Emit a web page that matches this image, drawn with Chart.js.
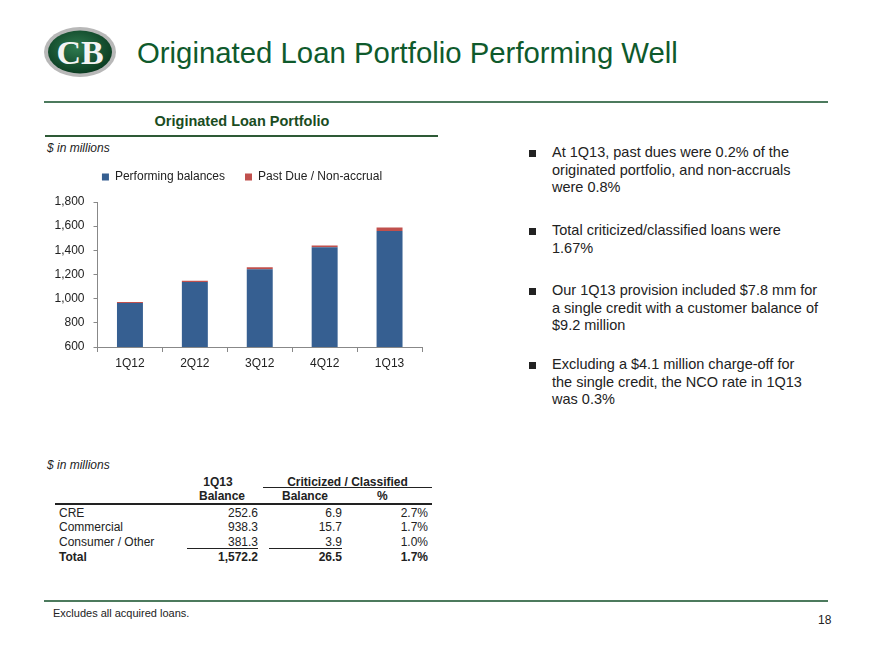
<!DOCTYPE html>
<html>
<head>
<meta charset="utf-8">
<script src="https://cdn.jsdelivr.net/npm/chart.js@4.4.0/dist/chart.umd.min.js"></script>
<style>
  body { margin:0; background:#fff; font-family:"Liberation Sans", Arial, sans-serif; color:#222; }
  #page { position:relative; width:880px; height:660px; overflow:hidden; }
  .abs { position:absolute; white-space:nowrap; }
  .hline { position:absolute; }
  #title { left:137px; top:36px; font-size:30px; color:#0f5a2c; transform:scaleX(0.978); transform-origin:left top; }
  #chartBox { position:absolute; left:30px; top:151px; width:420px; height:229px; }
  .bul { position:absolute; left:529px; width:7px; height:7px; background:#222; }
  .btxt { position:absolute; left:552px; font-size:14.5px; line-height:17.5px; color:#222; }
  .t { position:absolute; font-size:12px; line-height:14px; white-space:nowrap; }
  .r { text-align:right; }
  .b { font-weight:bold; }
</style>
</head>
<body>
<div id="page">
  <svg class="abs" style="left:42px;top:25px" width="78" height="56">
    <defs>
      <radialGradient id="g1" cx="45%" cy="40%" r="60%">
        <stop offset="0" stop-color="#2f7a4f"/>
        <stop offset="1" stop-color="#0b3d22"/>
      </radialGradient>
    </defs>
    <ellipse cx="38" cy="27" rx="36" ry="25" fill="#b8b8b8"/>
    <ellipse cx="38" cy="27" rx="32" ry="21.5" fill="url(#g1)"/>
    <text x="38" y="39" text-anchor="middle" font-family="Liberation Serif, serif" font-size="34" font-weight="bold" fill="#f4f4f4">CB</text>
  </svg>
  <div id="title" class="abs">Originated Loan Portfolio Performing Well</div>
  <div class="hline" style="left:44px;top:101px;width:784px;height:2px;background:#4c7a5d"></div>

  <div class="abs b" style="left:242px;top:113px;transform:translateX(-50%);font-size:14.5px;color:#1a4d1f">Originated Loan Portfolio</div>
  <div class="hline" style="left:45px;top:135px;width:393px;height:2px;background:#2e5a36"></div>
  <div class="abs" style="left:47px;top:141px;font-size:12px;font-style:italic">$ in millions</div>

  <div id="chartBox"><canvas id="c" width="420" height="229"></canvas></div>

  <div class="bul" style="top:150px"></div>
  <div class="btxt" style="top:144px">At 1Q13, past dues were 0.2% of the<br>originated portfolio, and non-accruals<br>were 0.8%</div>
  <div class="bul" style="top:228px"></div>
  <div class="btxt" style="top:222px">Total criticized/classified loans were<br>1.67%</div>
  <div class="bul" style="top:288px"></div>
  <div class="btxt" style="top:282px">Our 1Q13 provision included $7.8 mm for<br>a single credit with a customer balance of<br>$9.2 million</div>
  <div class="bul" style="top:362px"></div>
  <div class="btxt" style="top:356px">Excluding a $4.1 million charge-off for<br>the single credit, the NCO rate in 1Q13<br>was 0.3%</div>

  <div id="tbl"></div>

  <div class="hline" style="left:44px;top:600px;width:784px;height:2px;background:#4c7a5d"></div>
  <div class="abs" style="left:53px;top:607px;font-size:11px">Excludes all acquired loans.</div>
  <div class="abs" style="left:818px;top:613px;font-size:12px">18</div>
</div>

<script>
// chart data
const quarters = ['1Q12', '2Q12', '3Q12', '4Q12', '1Q13'];
const performing = [964, 1137, 1243, 1425, 1560];
const pastDue = [8, 11, 18, 16, 30];
const yTicks = [600, 800, 1000, 1200, 1400, 1600, 1800];

// table data
const segments = ['CRE', 'Commercial', 'Consumer / Other', 'Total'];
const balance1Q13 = ['252.6', '938.3', '381.3', '1,572.2'];
const critBalance = ['6.9', '15.7', '3.9', '26.5'];
const critPct = ['2.7%', '1.7%', '1.0%', '1.7%'];

const axisFont = { family: 'Liberation Sans', size: 12 };

// extra room under the legend, and nudge it right
const legendTweak = {
  id: 'legendTweak',
  beforeInit(chart) {
    const fit = chart.legend.fit;
    chart.legend.fit = function () {
      fit.bind(chart.legend)();
      this.height += 9;
    };
  },
  afterLayout(chart) {
    chart.legend.left += 7.5;
    chart.legend.right += 7.5;
  }
};

new Chart(document.getElementById('c'), {
  type: 'bar',
  data: {
    labels: quarters,
    datasets: [
      { label: 'Performing balances', data: performing, backgroundColor: '#365f91', barPercentage: 0.4, categoryPercentage: 1 },
      { label: 'Past Due / Non-accrual', data: pastDue, backgroundColor: '#c0504d', barPercentage: 0.4, categoryPercentage: 1 }
    ]
  },
  plugins: [legendTweak],
  options: {
    responsive: false,
    animation: false,
    layout: { padding: { left: 17, right: 28, top: 0, bottom: 0 } },
    plugins: {
      tooltip: { enabled: false },
      legend: {
        position: 'top',
        labels: { boxWidth: 7, boxHeight: 7, padding: 20, color: '#222', font: axisFont }
      }
    },
    scales: {
      x: {
        stacked: true,
        grid: { drawOnChartArea: false, tickLength: 5, color: '#888' },
        border: { color: '#888' },
        ticks: { color: '#222', font: axisFont, padding: 4 },
        afterFit: (s) => { s.height = 33; }
      },
      y: {
        stacked: true,
        min: 600, max: 1800,
        afterBuildTicks: (s) => { s.ticks = yTicks.map(v => ({ value: v })); },
        grid: { drawOnChartArea: false, tickLength: 4, color: '#888' },
        border: { color: '#888' },
        ticks: { color: '#222', font: axisFont, padding: 9, callback: v => v.toLocaleString('en-US') },
        afterFit: (s) => { s.width = 50.5; }
      }
    }
  }
});

// table
const tbl = document.getElementById('tbl');
function cell(txt, left, top, width, cls) {
  const d = document.createElement('div');
  d.className = 't ' + (cls || '');
  d.style.left = left + 'px'; d.style.top = top + 'px';
  if (width) d.style.width = width + 'px';
  d.textContent = txt;
  tbl.appendChild(d);
}
function line(left, top, width, h, col) {
  const d = document.createElement('div');
  d.className = 'hline';
  d.style.cssText = `left:${left}px;top:${top}px;width:${width}px;height:${h}px;background:${col}`;
  tbl.appendChild(d);
}
cell('$ in millions', 47, 458, 0, '');
tbl.lastChild.style.fontStyle = 'italic';
cell('1Q13', 187, 475, 62, 'b');
tbl.lastChild.style.textAlign = 'center';
cell('Criticized / Classified', 263, 475, 169, 'b');
tbl.lastChild.style.textAlign = 'center';
line(263, 487, 169, 1, '#222');
cell('Balance', 199, 489, 0, 'b');
cell('Balance', 282, 489, 0, 'b');
cell('%', 377, 489, 0, 'b');
line(55, 503, 377, 2, '#222');
const rowTops = [506, 520, 535, 550];
segments.forEach((s, i) => {
  const bold = i === 3 ? 'b' : '';
  cell(s, 59, rowTops[i], 0, bold);
  cell(balance1Q13[i], 158, rowTops[i], 100, 'r ' + bold);
  cell(critBalance[i], 242, rowTops[i], 100, 'r ' + bold);
  cell(critPct[i], 328, rowTops[i], 100, 'r ' + bold);
});
line(187, 548, 71, 1, '#222');
line(269, 548, 73, 1, '#222');
</script>
</body>
</html>
